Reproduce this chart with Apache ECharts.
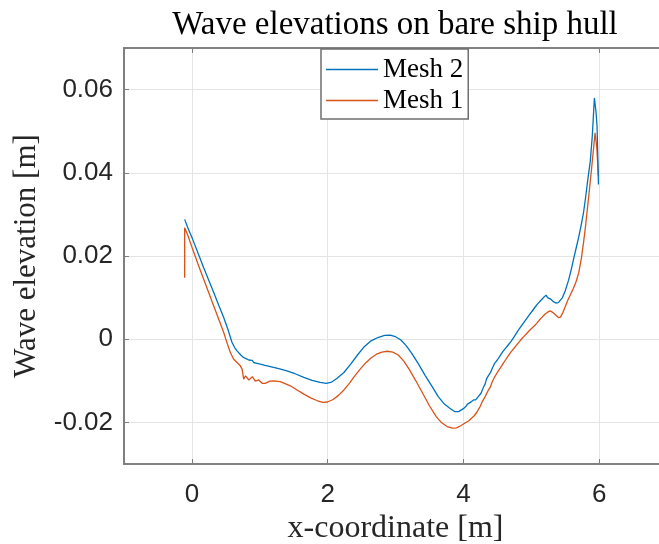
<!DOCTYPE html>
<html>
<head>
<meta charset="utf-8">
<script src="https://cdn.jsdelivr.net/npm/echarts@6/dist/echarts.min.js"></script>
<style>html,body{margin:0;padding:0;background:#fff;}#c{width:659px;height:544px;}</style>
</head>
<body>
<div id="c"></div>
<script>
const titleText = 'Wave elevations on bare ship hull';
const xName = 'x-coordinate [m]';
const yName = 'Wave elevation [m]';
const seriesNames = ['Mesh 2', 'Mesh 1'];
const xLabelTicks = [0, 2, 4, 6];
const yTicks = [-0.02, 0, 0.02, 0.04, 0.06];

const mesh2 = [
[-0.106,0.0288],[-0.06,0.0268],[0.012,0.0240],[0.09,0.0207],[0.174,0.0172],[0.25,0.0141],[0.322,0.0112],[0.40,0.0080],[0.469,0.0052],[0.53,0.0024],[0.592,-0.0008],[0.63,-0.0020],[0.665,-0.0028],[0.69,-0.0026],[0.72,-0.0038],[0.739,-0.0040],[0.76,-0.0044],[0.79,-0.0046],[0.81,-0.0044],[0.837,-0.0050],[0.86,-0.0052],[0.89,-0.0051],[0.91,-0.0056],[0.935,-0.0056],[0.96,-0.0058],[0.98,-0.0056],[1.009,-0.0060],[1.08,-0.0063],[1.156,-0.0066],[1.28,-0.0071],[1.40,-0.0076],[1.52,-0.0083],[1.65,-0.0092],[1.77,-0.0099],[1.89,-0.0104],[1.98,-0.0106],[2.06,-0.0103],[2.14,-0.0094],[2.24,-0.0080],[2.34,-0.0060],[2.44,-0.0038],[2.54,-0.0018],[2.64,-0.0004],[2.74,0.0004],[2.84,0.0009],[2.92,0.0010],[3.00,0.0006],[3.08,-0.0002],[3.16,-0.0016],[3.24,-0.0034],[3.34,-0.0060],[3.44,-0.0088],[3.54,-0.0114],[3.63,-0.0138],[3.72,-0.0156],[3.80,-0.0166],[3.87,-0.0174],[3.93,-0.0174],[4.00,-0.0167],[4.04,-0.0161],[4.06,-0.0156],[4.08,-0.0158],[4.12,-0.0150],[4.15,-0.0146],[4.18,-0.0146],[4.22,-0.0138],[4.26,-0.0130],[4.30,-0.0114],[4.32,-0.0108],[4.34,-0.0096],[4.36,-0.0090],[4.38,-0.0086],[4.40,-0.0080],[4.42,-0.0072],[4.44,-0.0068],[4.46,-0.0058],[4.48,-0.0062],[4.50,-0.0050],[4.52,-0.0052],[4.54,-0.0040],[4.56,-0.0042],[4.58,-0.0030],[4.60,-0.0034],[4.62,-0.0022],[4.64,-0.0026],[4.66,-0.0014],[4.68,-0.0018],[4.70,-0.0006],[4.72,-0.0008],[4.74,0.0004],[4.76,0.0002],[4.78,0.0014],[4.80,0.0012],[4.82,0.0024],[4.84,0.0021],[4.86,0.0033],[4.88,0.0030],[4.90,0.0042],[4.92,0.0039],[4.94,0.0051],[4.96,0.0048],[4.98,0.0060],[5.00,0.0057],[5.02,0.0069],[5.04,0.0066],[5.06,0.0078],[5.08,0.0074],[5.10,0.0086],[5.12,0.0082],[5.14,0.0093],[5.16,0.0089],[5.18,0.0100],[5.20,0.0096],[5.22,0.0106],[5.24,0.0100],[5.26,0.0104],[5.28,0.0097],[5.30,0.0098],[5.32,0.0091],[5.34,0.0093],[5.36,0.0087],[5.38,0.0090],[5.40,0.0088],[5.43,0.0094],[5.46,0.0100],[5.50,0.0116],[5.55,0.0142],[5.59,0.0168],[5.62,0.0190],[5.66,0.0218],[5.70,0.0246],[5.74,0.0278],[5.77,0.0304],[5.80,0.0340],[5.84,0.0392],[5.87,0.0428],[5.90,0.0490],[5.93,0.0580],[5.955,0.0545],[5.97,0.0510],[5.99,0.0372]
];

const mesh1 = [
[-0.106,0.0148],[-0.106,0.0268],[-0.06,0.0250],[0.012,0.0216],[0.09,0.0181],[0.174,0.0144],[0.25,0.0111],[0.322,0.0080],[0.40,0.0046],[0.469,0.0016],[0.52,-0.0010],[0.567,-0.0032],[0.616,-0.0048],[0.665,-0.0056],[0.714,-0.0064],[0.74,-0.0072],[0.763,-0.0096],[0.79,-0.0088],[0.812,-0.0092],[0.84,-0.0098],[0.862,-0.0100],[0.89,-0.0090],[0.91,-0.0094],[0.935,-0.0101],[0.96,-0.0104],[0.985,-0.0098],[1.009,-0.0101],[1.035,-0.0106],[1.058,-0.0110],[1.08,-0.0106],[1.107,-0.0104],[1.15,-0.0101],[1.205,-0.0100],[1.303,-0.0102],[1.45,-0.0112],[1.55,-0.0122],[1.65,-0.0132],[1.75,-0.0141],[1.85,-0.0148],[1.93,-0.0152],[2.00,-0.0151],[2.08,-0.0145],[2.16,-0.0135],[2.24,-0.0122],[2.32,-0.0106],[2.40,-0.0088],[2.48,-0.0072],[2.56,-0.0057],[2.64,-0.0045],[2.72,-0.0036],[2.80,-0.0031],[2.88,-0.0029],[2.96,-0.0031],[3.04,-0.0038],[3.12,-0.0052],[3.20,-0.0072],[3.30,-0.0100],[3.40,-0.0130],[3.50,-0.0160],[3.60,-0.0186],[3.68,-0.0201],[3.76,-0.0210],[3.84,-0.0214],[3.90,-0.0213],[3.96,-0.0208],[4.02,-0.0202],[4.08,-0.0196],[4.12,-0.0190],[4.16,-0.0184],[4.20,-0.0175],[4.24,-0.0164],[4.28,-0.0150],[4.32,-0.0138],[4.36,-0.0125],[4.40,-0.0114],[4.42,-0.0104],[4.44,-0.0102],[4.46,-0.0091],[4.48,-0.0090],[4.50,-0.0080],[4.52,-0.0081],[4.54,-0.0070],[4.56,-0.0071],[4.58,-0.0060],[4.60,-0.0061],[4.62,-0.0050],[4.64,-0.0051],[4.66,-0.0040],[4.68,-0.0041],[4.70,-0.0031],[4.72,-0.0033],[4.74,-0.0023],[4.76,-0.0025],[4.78,-0.0015],[4.80,-0.0017],[4.82,-0.0007],[4.84,-0.0009],[4.86,0.0001],[4.88,-0.0001],[4.90,0.0008],[4.92,0.0006],[4.94,0.0015],[4.96,0.0013],[4.98,0.0022],[5.00,0.0022],[5.04,0.0031],[5.08,0.0038],[5.12,0.0046],[5.16,0.0053],[5.20,0.0060],[5.24,0.0065],[5.28,0.0068],[5.32,0.0064],[5.36,0.0058],[5.40,0.0052],[5.43,0.0053],[5.46,0.0062],[5.50,0.0078],[5.54,0.0094],[5.58,0.0108],[5.62,0.0122],[5.66,0.0138],[5.70,0.0160],[5.74,0.0196],[5.77,0.0232],[5.80,0.0272],[5.83,0.0318],[5.86,0.0364],[5.89,0.0412],[5.92,0.0462],[5.94,0.0496],[5.965,0.0462],[5.99,0.0392]
];

const AX = '#808080';
const GRID = '#e4e4e4';
const LBL = '#262626';
const SERIF = '"Liberation Serif", "DejaVu Serif", serif';
const SANS = '"Liberation Sans", Arial, sans-serif';

const chart = echarts.init(document.getElementById('c'), null, {renderer: 'canvas'});
const xAxisBase = {
  type: 'value', min: -1, max: 7, gridIndex: 0,
  axisLine: {show: true, onZero: false, lineStyle: {color: AX, width: 2}},
  axisTick: {show: true, inside: true, length: 5, lineStyle: {color: AX, width: 1}, customValues: xLabelTicks},
};
chart.setOption({
  animation: false,
  backgroundColor: '#fff',
  title: {
    text: titleText, left: 395, top: 9, padding: 0, textAlign: 'center',
    textStyle: {fontFamily: SERIF, fontSize: 33, fontWeight: 'normal', color: '#000'}
  },
  legend: {
    orient: 'vertical', left: 321, top: 49, padding: [7, 5, 5, 5], itemGap: 4,
    itemWidth: 52, itemHeight: 1.5, icon: 'rect', borderColor: '#6f6f6f', borderWidth: 1.5,
    backgroundColor: '#fff', data: seriesNames,
    textStyle: {fontFamily: SERIF, fontSize: 27, color: '#000'}
  },
  grid: {left: 124, top: 48, width: 543, height: 416, containLabel: false, outerBoundsMode: 'none'},
  xAxis: [
    Object.assign({}, xAxisBase, {
      position: 'bottom',
      name: xName, nameLocation: 'middle', nameGap: 47,
      nameTextStyle: {fontFamily: SERIF, fontSize: 32, color: '#262626'},
      axisLabel: {show: true, customValues: xLabelTicks, margin: 18, fontFamily: SANS, fontSize: 26, color: LBL},
      splitLine: {show: true, lineStyle: {color: GRID, width: 1}}
    }),
    Object.assign({}, xAxisBase, {
      position: 'top', axisLabel: {show: false}, splitLine: {show: false}
    })
  ],
  yAxis: [
    {
      type: 'value', min: -0.03, max: 0.07, position: 'left',
      name: yName, nameLocation: 'middle', nameGap: 80, nameRotate: 90,
      nameTextStyle: {fontFamily: SERIF, fontSize: 31, color: '#262626'},
      axisLine: {show: true, onZero: false, lineStyle: {color: AX, width: 2}},
      axisTick: {show: true, inside: true, length: 5, lineStyle: {color: AX, width: 1}, customValues: yTicks},
      axisLabel: {show: true, customValues: yTicks, margin: 11, fontFamily: SANS, fontSize: 26, color: LBL,
        formatter: v => (Math.abs(v) < 1e-9 ? '0' : v.toFixed(2))},
      splitLine: {show: true, lineStyle: {color: GRID, width: 1}}
    },
    {
      type: 'value', min: -0.03, max: 0.07, position: 'right',
      axisLine: {show: true, onZero: false, lineStyle: {color: AX, width: 2}},
      axisTick: {show: true, inside: true, length: 5, lineStyle: {color: AX}, customValues: yTicks},
      axisLabel: {show: false}, splitLine: {show: false}
    }
  ],
  series: [
    {name: seriesNames[0], type: 'line', data: mesh2, showSymbol: false, symbol: 'none',
      color: '#0072BD', lineStyle: {width: 1.3, color: '#0072BD'}, z: 3},
    {name: seriesNames[1], type: 'line', data: mesh1, showSymbol: false, symbol: 'none',
      color: '#D95319', lineStyle: {width: 1.3, color: '#D95319'}, z: 2}
  ]
});
</script>
</body>
</html>
